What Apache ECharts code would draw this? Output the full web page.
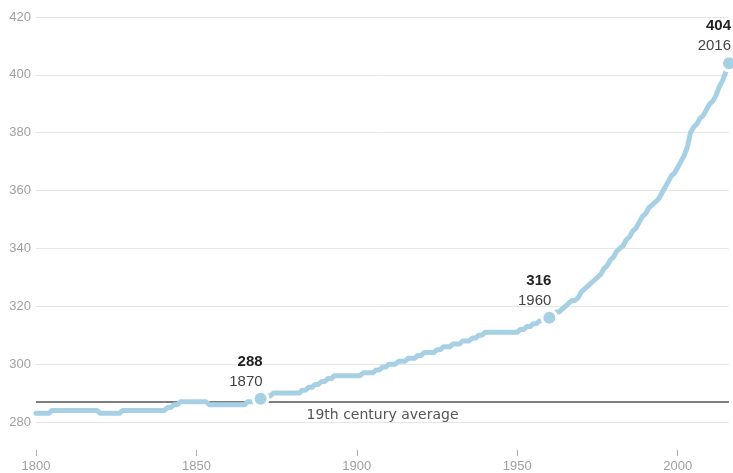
<!DOCTYPE html>
<html>
<head>
<meta charset="utf-8">
<script src="https://cdn.jsdelivr.net/npm/echarts@6/dist/echarts.min.js"></script>
<style>
html,body{margin:0;padding:0;background:#fff;}
#chart{width:733px;height:473px;}
</style>
</head>
<body>
<div id="chart"></div>
<script>
// Years 1800..2016
var startYear = 1800;
// Atmospheric CO2 (ppm), one value per year, by decade
var co2 = [
  283,283,283,283,283,284,284,284,284,284, // 1800s
  284,284,284,284,284,284,284,284,284,284, // 1810s
  283,283,283,283,283,283,283,284,284,284, // 1820s
  284,284,284,284,284,284,284,284,284,284, // 1830s
  284,285,285,286,286,287,287,287,287,287, // 1840s
  287,287,287,287,286,286,286,286,286,286, // 1850s
  286,286,286,286,286,286,287,287,287,288, // 1860s
  288,289,289,289,290,290,290,290,290,290, // 1870s
  290,290,290,291,291,292,292,293,293,294, // 1880s
  294,295,295,296,296,296,296,296,296,296, // 1890s
  296,296,297,297,297,297,298,298,299,299, // 1900s
  300,300,300,301,301,301,302,302,302,303, // 1910s
  303,304,304,304,304,305,305,306,306,306, // 1920s
  307,307,307,308,308,308,309,309,310,310, // 1930s
  311,311,311,311,311,311,311,311,311,311, // 1940s
  311,312,312,313,313,314,314,315,315,316, // 1950s
  316,317,318,318,319,320,321,322,322,323, // 1960s
  325,326,327,328,329,330,331,333,334,336, // 1970s
  337,339,340,341,343,344,346,347,349,351, // 1980s
  352,354,355,356,357,359,361,363,365,366, // 1990s
  368,370,372,375,380,382,383,385,386,388, // 2000s
  390,391,393,396,398,401,404              // 2010s
];
var years = co2.map(function(v, i){ return startYear + i; });

// Highlighted points
var annoYears  = [1870, 1960, 2016];
var annoValues = [288, 316, 404];

// 19th century average
var avg19 = 287;
var avgLabel = '19th century average';

// Axis ticks
var xTicks = [1800, 1850, 1900, 1950, 2000];
var yMin = 280, yMax = 420, yStep = 20;

var seriesData = years.map(function(y, i){ return [y, co2[i]]; });

var FONT = "'Liberation Sans', Arial, sans-serif";
var lineColor = '#a8d0e5';

var chart = echarts.init(document.getElementById('chart'), null, {renderer:'canvas'});
chart.setOption({
  animation: false,
  textStyle: { fontFamily: FONT },
  grid: { left: 36, right: 4, top: 17, bottom: 50, containLabel: false },
  xAxis: {
    type: 'value',
    min: 1800, max: 2016,
    offset: 28,
    axisLine: { show: false },
    splitLine: { show: false },
    axisTick: { show: true, length: 6, lineStyle: { color: '#aaa' }, customValues: xTicks },
    axisLabel: { color: '#a0a0a0', fontSize: 13, margin: 10, customValues: xTicks, formatter: function(v){ return String(v); } }
  },
  yAxis: {
    type: 'value',
    min: yMin, max: yMax, interval: yStep,
    axisLine: { show: false },
    axisTick: { show: false },
    splitLine: { lineStyle: { color: '#e6e6e6', width: 1 } },
    axisLabel: { color: '#a0a0a0', fontSize: 13, margin: 5 }
  },
  series: [{
    type: 'line',
    data: seriesData,
    showSymbol: false,
    symbol: 'none',
    lineStyle: { color: lineColor, width: 5, cap: 'round', join: 'round' },
    z: 3,
    markLine: {
      silent: true,
      symbol: ['none', 'none'],
      lineStyle: { color: '#555', width: 1.5, type: 'solid' },
      label: {
        show: true,
        position: 'insideMiddleBottom',
        formatter: avgLabel,
        color: '#555',
        fontSize: 14,
        fontFamily: "'DejaVu Sans', sans-serif",
        distance: 7
      },
      data: [{ yAxis: avg19 }],
      z: 2
    },
    markPoint: {
      silent: true,
      symbol: 'circle',
      symbolSize: 15,
      itemStyle: { color: lineColor, borderColor: '#fff', borderWidth: 3 },
      data: annoYears.map(function(y, i){
        return {
          coord: [y, annoValues[i]],
          label: {
            show: true,
            position: 'top',
            align: 'right',
            offset: [2, 5],
            distance: 3,
            formatter: '{v|' + annoValues[i] + '}\n{y|' + y + '}',
            rich: {
              v: { fontSize: 15, fontWeight: 'bold', color: '#222', lineHeight: 20, align: 'right', fontFamily: FONT },
              y: { fontSize: 15, color: '#444', lineHeight: 20, align: 'right', fontFamily: FONT }
            }
          }
        };
      }),
      z: 5
    }
  }]
});
</script>
</body>
</html>
